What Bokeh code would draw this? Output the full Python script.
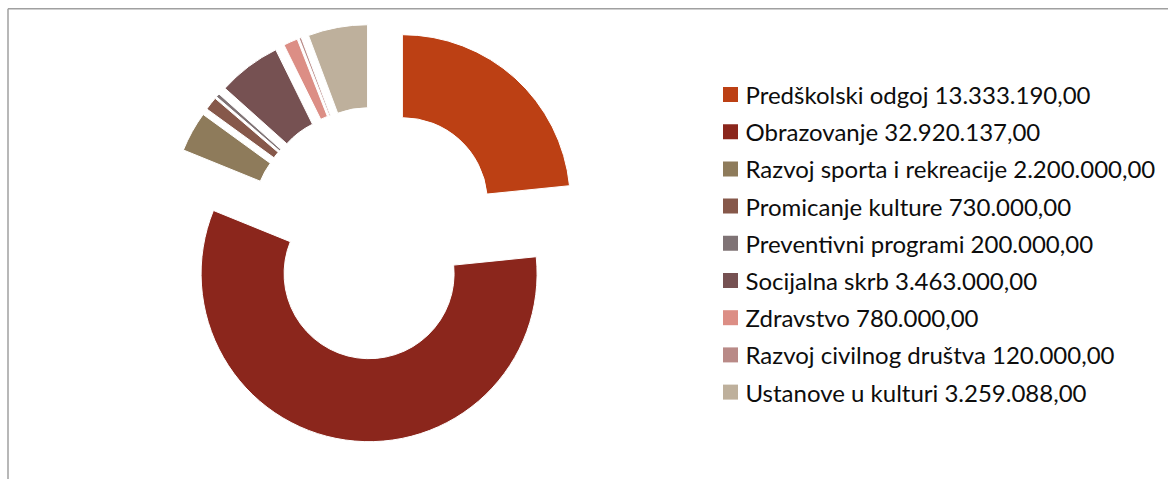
import math
from bokeh.plotting import figure
from bokeh.models import Range1d, ColumnDataSource
from bokeh.core.properties import value
from bokeh.embed import file_html
from bokeh.resources import INLINE

# ---- data ----
categories = [
    "Predškolski odgoj",
    "Obrazovanje",
    "Razvoj sporta i rekreacije",
    "Promicanje kulture",
    "Preventivni programi",
    "Socijalna skrb",
    "Zdravstvo",
    "Razvoj civilnog društva",
    "Ustanove u  kulturi",
]
amounts = [13333190.00, 32920137.00, 2200000.00, 730000.00, 200000.00,
           3463000.00, 780000.00, 120000.00, 3259088.00]
colors = ["#BC4014", "#8B261C", "#8E7B5B", "#86584A", "#7F7375",
          "#765152", "#DC8E85", "#B98A87", "#BEB09C"]

W, H = 1168, 479
p = figure(width=W, height=H, x_range=Range1d(0, W), y_range=Range1d(0, H),
           output_backend="svg", toolbar_location=None, min_border=0,
           x_axis_type=None, y_axis_type=None)
p.grid.visible = False
p.outline_line_color = None
p.background_fill_color = "white"
p.border_fill_color = "white"

# frame (top and left edges visible)
fy = H - 8.3
fx = 7.5
p.segment(x0=[fx, fx], y0=[fy, 0], x1=[W, fx], y1=[fy, fy],
          line_color="#A0A0A0", line_width=1.5)

# donut
cx, cy = 374.4, H - 232.6
r_out, r_in, explode = 168, 85, 41
total = sum(amounts)
xs, ys, starts, ends = [], [], [], []
cum = 0.0
for v in amounts:
    t1 = cum / total * 2 * math.pi
    cum += v
    t2 = cum / total * 2 * math.pi
    mid = (t1 + t2) / 2
    xs.append(cx + explode * math.sin(mid))
    ys.append(cy + explode * math.cos(mid))
    starts.append(math.pi / 2 - t2)
    ends.append(math.pi / 2 - t1)

src = ColumnDataSource(dict(x=xs, y=ys, start=starts, end=ends, color=colors))
p.annular_wedge(x="x", y="y", inner_radius=r_in, outer_radius=r_out,
                start_angle="start", end_angle="end", fill_color="color",
                line_color="white", line_width=1, source=src)

# legend
def fmt(v):
    s = f"{v:,.2f}"
    return s.replace(",", "#").replace(".", ",").replace("#", ".")

labels = [f"{c} {fmt(v)}" for c, v in zip(categories, amounts)]
ly = [H - 94 - i * 37.2 for i in range(len(labels))]
p.rect(x=[730] * len(labels), y=ly, width=15, height=15,
       fill_color=colors, line_color=None)
p.text(x=[745] * len(labels), y=ly, text=labels, text_baseline="middle",
       text_align="left", text_font=value("Lato"), text_font_size="24px",
       text_color="#0d0d0d")

open("out.html", "w").write(file_html(p, INLINE))
